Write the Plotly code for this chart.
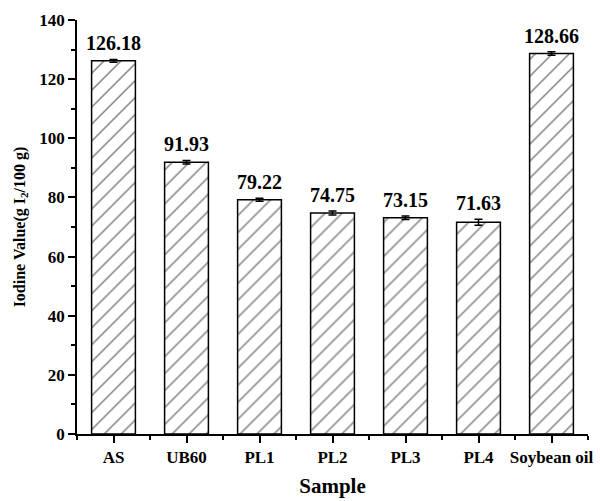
import plotly.graph_objects as go

samples = ["AS", "UB60", "PL1", "PL2", "PL3", "PL4", "Soybean oil"]
iodine_values = [126.18, 91.93, 79.22, 74.75, 73.15, 71.63, 128.66]
errors = [0.5, 0.6, 0.5, 0.7, 0.6, 1.0, 0.6]
value_labels = ["126.18", "91.93", "79.22", "74.75", "73.15", "71.63", "128.66"]
y_ticks = [0, 20, 40, 60, 80, 100, 120, 140]

FONT = "Liberation Serif"

fig = go.Figure()
fig.add_trace(go.Bar(
    x=list(range(len(samples))),
    y=iodine_values,
    width=0.6,
    marker=dict(
        color="white",
        line=dict(color="black", width=1.5),
        pattern=dict(shape="/", fgcolor="black", bgcolor="white", size=12, solidity=0.12),
    ),
    error_y=dict(type="data", array=errors, visible=True, color="black",
                 thickness=1.5, width=4),
    showlegend=False,
))

for i, (v, e, lab) in enumerate(zip(iodine_values, errors, value_labels)):
    fig.add_annotation(x=i, y=v + e, text=f"<b>{lab}</b>", showarrow=False,
                       yanchor="bottom", yshift=3,
                       font=dict(family=FONT, size=20, color="black"))

fig.update_layout(
    width=600, height=501,
    margin=dict(l=77, r=7, t=20, b=66),
    plot_bgcolor="white", paper_bgcolor="white",
    font=dict(family=FONT, color="black"),
    xaxis=dict(
        range=[-0.5, 6.5],
        tickmode="array", tickvals=list(range(len(samples))),
        ticktext=[f"<b>{s}</b>" for s in samples],
        showline=True, linecolor="black", linewidth=1.5,
        ticks="outside", ticklen=7, tickwidth=1.5, tickcolor="black",
        minor=dict(tickvals=[i + 0.5 for i in range(-1, len(samples))],
                   ticks="outside", ticklen=4, tickwidth=1.5, tickcolor="black"),
        tickfont=dict(family=FONT, size=17, color="black"),
        showgrid=False, zeroline=False,
        title=dict(text="<b>Sample</b>", font=dict(family=FONT, size=21, color="black"),
                   standoff=12),
    ),
    yaxis=dict(
        range=[0, 140],
        tickmode="array", tickvals=y_ticks,
        ticktext=[f"<b>{t}</b>" for t in y_ticks],
        showline=True, linecolor="black", linewidth=1.5,
        ticks="outside", ticklen=7, tickwidth=1.5, tickcolor="black",
        minor=dict(tickvals=[t + 10 for t in y_ticks[:-1]],
                   ticks="outside", ticklen=4, tickwidth=1.5, tickcolor="black"),
        tickfont=dict(family=FONT, size=17, color="black"),
        showgrid=False, zeroline=False,
        title=dict(text="<b>Iodine Value(g I<sub>2</sub>/100 g)</b>",
                   font=dict(family=FONT, size=16, color="black"), standoff=10),
    ),
)

fig.write_html("out.html")
